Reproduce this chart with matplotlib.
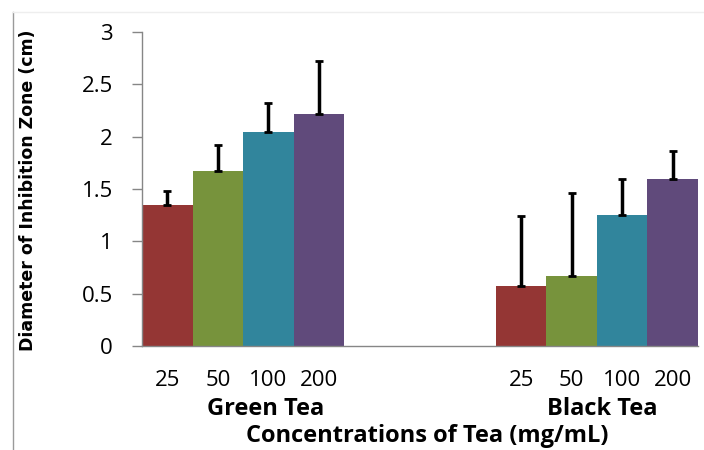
import numpy as np
import matplotlib.pyplot as plt
from matplotlib.lines import Line2D

concentrations = ["25", "50", "100", "200"]
groups = ["Green Tea", "Black Tea"]
green_tea = [1.35, 1.67, 2.04, 2.22]
green_err = [0.13, 0.25, 0.28, 0.50]
black_tea = [0.57, 0.67, 1.25, 1.60]
black_err = [0.67, 0.79, 0.35, 0.26]
colors = ["#943634", "#77933C", "#31859C", "#604A7B"]

plt.rcParams['font.family'] = ['Open Sans', 'DejaVu Sans']

fig = plt.figure(figsize=(7.04, 4.5), dpi=100)
ax = fig.add_axes([142/704, 1-346/450, 556/704, 314/450])

x_green = np.arange(4)
x_black = np.arange(4) + 7
for xs, vals, errs in [(x_green, green_tea, green_err), (x_black, black_tea, black_err)]:
    ax.bar(xs, vals, width=1.0, color=colors, edgecolor='none', zorder=2)
    ax.errorbar(xs, vals, yerr=[np.zeros(4), errs], fmt='none', ecolor='black',
                elinewidth=2.5, capsize=3, capthick=2, zorder=3)

ax.set_xlim(-0.5, 10.5)
ax.set_ylim(0, 3)
ax.set_yticks([0, 0.5, 1, 1.5, 2, 2.5, 3])
ax.set_yticklabels(["0", "0.5", "1", "1.5", "2", "2.5", "3"])
ax.set_xticks(list(x_green) + list(x_black))
ax.set_xticklabels(concentrations * 2)
ax.tick_params(axis='y', length=7, width=1, color='#868686', pad=14, labelsize=16)
ax.tick_params(axis='x', length=0, pad=17, labelsize=16)

for side in ['top', 'right']:
    ax.spines[side].set_visible(False)
for side in ['left', 'bottom']:
    ax.spines[side].set_color('#868686')
    ax.spines[side].set_linewidth(1)

trans = ax.get_xaxis_transform()
ax.text(1.95, -0.20, groups[0], transform=trans, ha='center', va='center',
        fontsize=17, fontweight='bold')
ax.text(8.6, -0.20, groups[1], transform=trans, ha='center', va='center',
        fontsize=17, fontweight='bold')
ax.text(5.14, -0.288, "Concentrations of Tea (mg/mL)", transform=trans,
        ha='center', va='center', fontsize=17, fontweight='bold')

fig.text(28/704, 1-190/450, "Diameter of Inhibition Zone (cm)", rotation=90,
         ha='center', va='center', fontsize=12.5, fontweight='bold',
         family=['Liberation Sans Narrow', 'DejaVu Sans'])

fig.add_artist(Line2D([13/704, 13/704], [0, 1-12/450], color='#9a9a9a', lw=1))
fig.add_artist(Line2D([13/704, 1], [1-12/450, 1-12/450], color='#eeeeee', lw=1))

fig.savefig("out.png", dpi=100)
